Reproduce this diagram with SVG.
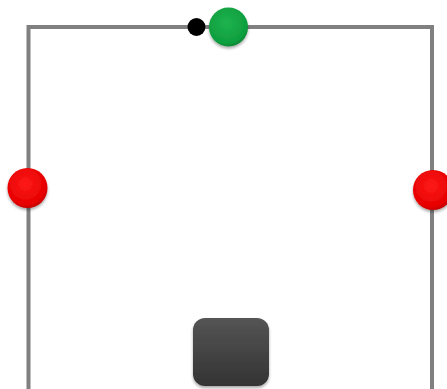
<svg xmlns="http://www.w3.org/2000/svg" width="447" height="389" viewBox="0 0 447 389">
<defs>
<radialGradient id="red" cx="0.45" cy="0.4" r="0.65">
<stop offset="0" stop-color="#ff1a1a"/>
<stop offset="0.8" stop-color="#e60000"/>
<stop offset="1" stop-color="#b00000"/>
</radialGradient>
<radialGradient id="green" cx="0.45" cy="0.4" r="0.65">
<stop offset="0" stop-color="#1fb34f"/>
<stop offset="0.8" stop-color="#0e9e3e"/>
<stop offset="1" stop-color="#07782d"/>
</radialGradient>
<linearGradient id="dark" x1="0" y1="0" x2="0" y2="1">
<stop offset="0" stop-color="#555555"/>
<stop offset="1" stop-color="#333333"/>
</linearGradient>
<filter id="sh" x="-30%" y="-30%" width="160%" height="160%">
<feGaussianBlur in="SourceAlpha" stdDeviation="1.5"/>
<feOffset dy="1.5"/>
<feComponentTransfer><feFuncA type="linear" slope="0.35"/></feComponentTransfer>
<feMerge><feMergeNode/><feMergeNode in="SourceGraphic"/></feMerge>
</filter>
</defs>
<style>
.wire{fill:none;stroke:#808080;stroke-width:4}
</style>
<rect width="447" height="389" fill="#ffffff"/>
<g id="connectors">
<path class="wire" d="M28.5,389 V27 H432 V389"/>
</g>
<g id="black-dot"><circle cx="196.5" cy="27" r="9" fill="#000000"/></g>
<g id="green-node"><circle cx="228.5" cy="27" r="19.5" fill="url(#green)" filter="url(#sh)"/></g>
<g id="red-left"><circle cx="27.5" cy="188" r="20" fill="url(#red)" filter="url(#sh)"/></g>
<g id="red-right"><circle cx="433" cy="190" r="20" fill="url(#red)" filter="url(#sh)"/></g>
<g id="square"><rect x="193" y="318" width="76" height="68" rx="12" fill="url(#dark)" filter="url(#sh)"/></g>
</svg>
